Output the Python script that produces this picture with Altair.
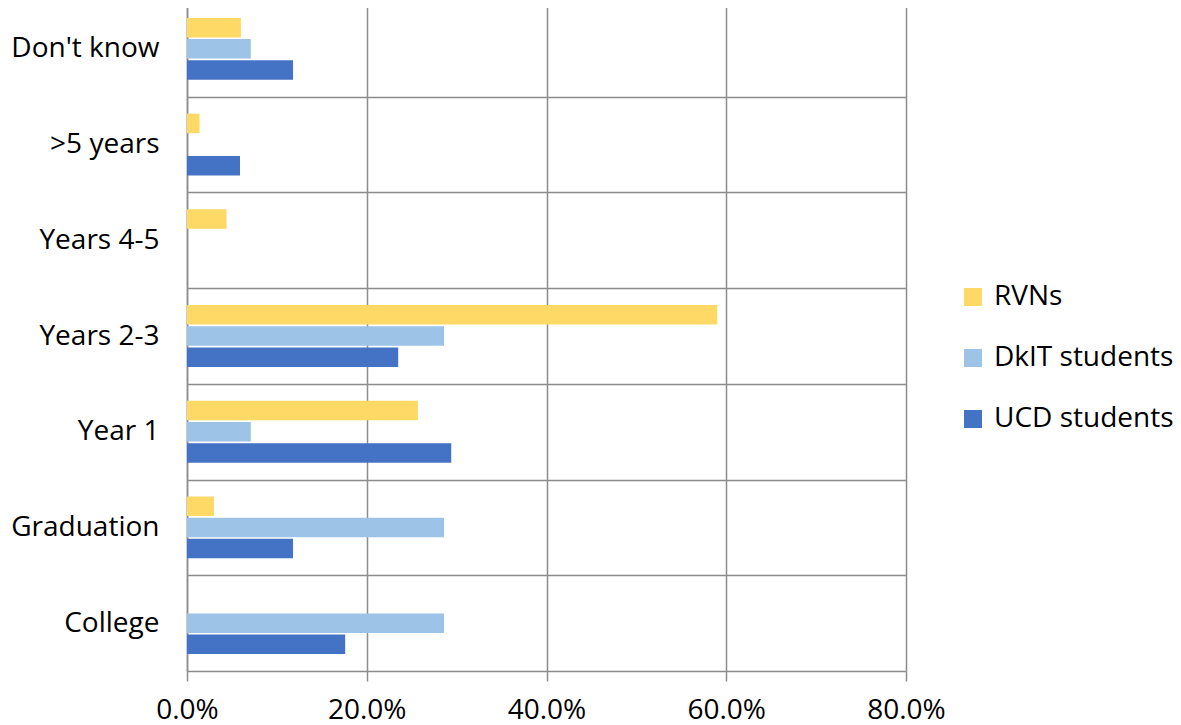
import altair as alt
import pandas as pd

categories = ["Don't know", ">5 years", "Years 4-5", "Years 2-3", "Year 1", "Graduation", "College"]
series = ["RVNs", "DkIT students", "UCD students"]
rvns = [6.0, 1.4, 4.4, 59.0, 25.7, 3.0, 0.0]
dkit = [7.1, 0.0, 0.0, 28.6, 7.1, 28.6, 28.6]
ucd = [11.8, 5.9, 0.0, 23.5, 29.4, 11.8, 17.6]
colors = ["#FFD966", "#9DC3E6", "#4472C4"]
x_ticks = [0, 0.2, 0.4, 0.6, 0.8]

rows = []
for s, vals in zip(series, [rvns, dkit, ucd]):
    for c, v in zip(categories, vals):
        rows.append({"category": c, "series": s, "value": v / 100})
df = pd.DataFrame(rows)

FONT = "Open Sans"
FS = 28
GRID = "#8c8c8c"

chart = alt.Chart(df).mark_bar().encode(
    x=alt.X("value:Q",
            scale=alt.Scale(domain=[0, 0.8], nice=False),
            axis=alt.Axis(values=x_ticks, format=".1%", title=None,
                          grid=True, gridColor=GRID, gridWidth=1.5,
                          domain=False, tickColor=GRID, tickWidth=1.5,
                          tickSize=10, labelFontSize=FS, labelFont=FONT,
                          labelColor="black", labelPadding=15,
                          labelFlush=False)),
    y=alt.Y("category:N", sort=categories,
            scale=alt.Scale(paddingInner=0, paddingOuter=0),
            axis=alt.Axis(title=None, ticks=False, tickBand="extent",
                          grid=True, gridColor=GRID, gridWidth=1.5,
                          domainColor=GRID, domainWidth=1.5,
                          labelFontSize=FS, labelFont=FONT, labelLimit=0,
                          labelColor="black", labelPadding=28)),
    yOffset=alt.YOffset("series:N", sort=series,
                        scale=alt.Scale(paddingInner=0.08, paddingOuter=0.8)),
    color=alt.Color("series:N", sort=series,
                    scale=alt.Scale(domain=series, range=colors),
                    legend=alt.Legend(title=None, orient="none",
                                      legendX=772, legendY=282,
                                      symbolType="square", symbolSize=324,
                                      symbolStrokeWidth=0,
                                      labelFontSize=FS, labelFont=FONT,
                                      labelLimit=0,
                                      labelColor="black", rowPadding=33,
                                      labelOffset=7)),
).properties(
    width=719, height=670,
    padding={"left": 179, "top": -7, "right": 267, "bottom": 54},
    autosize=alt.AutoSizeParams(type="none"),
).configure_view(stroke=None)

chart.save("out.html", embed_options={"renderer": "svg", "actions": False})
